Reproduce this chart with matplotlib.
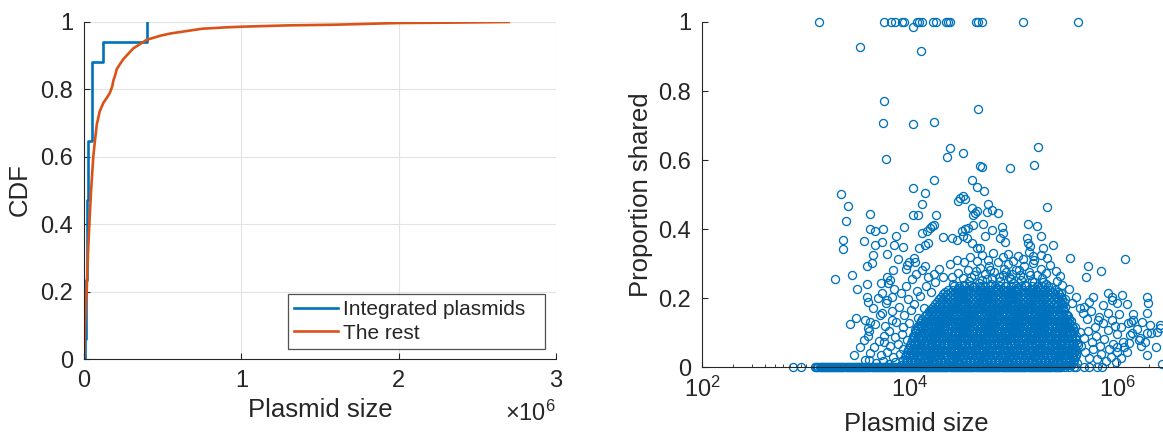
import numpy as np
import matplotlib.pyplot as plt
from matplotlib.ticker import LogLocator, NullFormatter

plt.rcParams['font.family'] = ['Liberation Sans', 'DejaVu Sans']
plt.rcParams['mathtext.fontset'] = 'custom'
plt.rcParams['mathtext.rm'] = 'Liberation Sans'
plt.rcParams['mathtext.it'] = 'Liberation Sans:italic'

BLUE = '#0072BD'
ORANGE = '#D95319'
INK = '#262626'

# ---- left panel: CDF of plasmid size ----
integrated_sizes = [9000, 11000, 13000, 15000, 16000, 17000, 18000, 21000, 23000,
                    26000, 28000, 49000, 50000, 52000, 53000, 123000, 398000]

rest_size_mb = [0, 0.004, 0.008, 0.012, 0.017, 0.022, 0.028, 0.034, 0.045, 0.059,
                0.07, 0.081, 0.1, 0.123, 0.145, 0.165, 0.18, 0.186, 0.2, 0.208,
                0.25, 0.314, 0.398, 0.483, 0.55, 0.65, 0.75, 0.9, 1.0, 1.3, 1.6,
                2.0, 2.3, 2.7]
rest_cdf = [0, 0.06, 0.12, 0.17, 0.2, 0.27, 0.34, 0.4, 0.5, 0.6,
            0.65, 0.695, 0.735, 0.76, 0.775, 0.79, 0.81, 0.825, 0.845, 0.86,
            0.89, 0.922, 0.947, 0.959, 0.966, 0.973, 0.98, 0.984, 0.986, 0.99, 0.992,
            0.997, 0.998, 1.0]

# ---- right panel: proportion shared vs plasmid size (log10 size x 100) ----
top_pts = [(312.8, 1), (375.3, 1), (381.7, 1), (385.6, 1), (392.0, 1), (394.2, 1),
           (403.2, .985), (406.4, 1), (408.9, 1), (411.2, 1), (422.4, 1), (424.7, 1),
           (434.3, 1), (436.3, 1), (438.5, 1), (463.0, 1), (465.4, 1), (469.2, 1),
           (508.9, 1), (561.8, 1)]

high_pts = [(351.9, .929), (410.9, .916), (375.3, .771), (374.3, .708), (403.2, .706),
            (423.4, .711), (465.7, .747), (376.9, .602), (438.5, .636), (435.3, .609),
            (450.7, .621), (423.4, .541), (459.3, .541), (467.3, .582), (333.9, .503),
            (403.2, .519), (414.4, .505), (340.1, .466), (411.2, .474), (338.5, .425),
            (361.8, .445), (403.2, .442), (408.0, .442), (424.7, .442), (335.6, .369),
            (335.6, .342), (355.8, .365), (361.5, .401), (366.3, .396), (374.3, .401),
            (366.3, .353), (372.8, .362), (386.5, .379), (384.9, .353), (393.6, .348),
            (394.2, .405), (411.2, .389), (416.1, .396), (419.2, .403), (420.9, .408),
            (423.4, .413), (408.9, .345), (414.4, .355), (417.0, .360), (432.0, .377),
            (440.1, .374), (444.9, .369), (448.1, .491), (446.2, .483), (451.0, .497),
            (452.9, .488), (459.3, .462), (464.1, .452), (460.9, .442), (464.1, .522),
            (452.9, .401), (455.8, .404), (450.7, .381), (454.5, .374), (460.9, .413),
            (459.3, .360), (464.1, .345), (404.1, .316), (364.7, .326), (377.6, .329),
            (523.4, .638), (519.2, .587), (468.9, .579), (496.2, .576), (471.2, .512),
            (531.4, .463), (474.7, .474), (478.6, .456), (484.3, .447), (473.8, .451),
            (462.5, .447), (469.9, .415), (478.6, .398), (488.2, .405), (489.1, .389),
            (513.7, .415), (522.4, .408), (525.7, .379), (512.2, .374), (513.7, .360),
            (515.4, .350), (537.2, .355), (528.2, .345), (518.6, .321), (553.8, .316),
            (606.7, .314), (486.5, .374), (491.3, .364), (472.1, .379), (467.3, .345),
            (449.7, .394)]

left_pts = [(327.9, .257), (343.9, .268), (348.8, .227), (358.4, .241), (359.9, .189),
            (342.3, .125), (348.1, .142), (356.7, .137), (361.5, .132), (366.3, .126),
            (359.9, .115), (359.9, .092), (375.0, .092), (360.9, .021), (358.4, .292),
            (363.2, .302), (383.9, .282), (379.1, .244), (380.8, .253), (369.5, .200),
            (372.8, .215), (377.6, .195), (372.8, .157), (382.4, .137), (396.8, .297),
            (404.8, .306), (414.4, .292),
            (372, .245), (378, .262), (385, .228), (391, .214), (396, .236), (402, .255),
            (407, .222), (398, .198), (404, .183), (410, .207), (389, .176), (383, .162),
            (394, .151), (401, .166), (408, .142), (413, .171), (387, .131), (393, .118),
            (399, .127), (405, .109), (411, .122), (380, .105), (386, .088), (392, .097),
            (397, .079), (403, .091), (375, .072), (381, .061), (388, .068), (393, .052),
            (378, .044), (384, .031), (390, .039), (372, .035), (365, .058), (370, .075),
            (376, .120), (371, .152), (364, .172), (359, .205), (377, .185), (383, .205),
            (415, .236), (420, .218), (417, .261), (423, .270), (412, .282), (406, .271),
            (396, .286), (399, .305), (388, .315), (361, .104), (356, .078), (362, .042),
            (352, .060), (367, .013), (374, .018), (380, .011), (386, .016), (391, .008),
            (357, .022), (346, .035)]

right_pts = [(571.5, .292), (569.3, .261), (583.7, .279), (590.7, .214), (593.9, .203),
             (604.2, .209), (598.8, .185), (608.4, .182), (627.6, .205), (629.2, .187),
             (627.6, .158), (614.8, .137), (622.8, .132), (630.8, .122), (640.4, .122),
             (637.2, .103), (627.6, .098), (621.2, .084), (626.0, .074), (611.6, .093),
             (605.2, .074), (598.8, .045), (627.6, .035), (608.4, .045), (632.2, .099),
             (640.6, .113), (636.5, .060), (612.2, .132), (613.9, .099), (598.9, .060),
             (610.6, .070), (620.6, .079), (593.9, .195), (585.6, .181), (590.6, .157),
             (580.6, .138), (575.6, .205), (572.3, .190), (567.3, .176),
             (545, .215), (549, .198), (553, .226), (556, .187), (560, .205), (563, .172),
             (566, .158), (570, .141), (574, .163), (578, .118), (582, .147), (586, .128),
             (590, .109), (594, .136), (597, .121), (601, .155), (547, .171), (551, .152),
             (555, .133), (559, .118), (563, .101), (567, .086), (571, .105), (575, .072),
             (579, .091), (583, .063), (587, .081), (591, .052), (595, .068), (599, .097),
             (603, .116), (606, .058), (610, .129), (614, .155), (618, .112), (622, .062),
             (547, .089), (552, .071), (556, .055), (560, .039), (564, .062), (568, .045),
             (572, .028), (576, .052), (580, .024), (584, .038), (588, .019), (593, .031),
             (598, .015), (603, .026), (549, .035), (553, .018), (557, .027), (561, .012),
             (642, .010)]

cap_pts = [(441, .241), (447, .229), (452, .238), (457, .251), (461, .233),
           (466, .244), (470, .236), (474, .257), (478, .241), (483, .229), (487, .249),
           (491, .236), (495, .262), (499, .244), (503, .231), (507, .253), (511, .239),
           (515, .266), (519, .247), (523, .235), (527, .258), (531, .242), (536, .233),
           (541, .251), (546, .238), (440, .262), (446, .272), (451, .259), (456, .281),
           (462, .266), (467, .288), (472, .271), (476, .294), (481, .276), (486, .262),
           (490, .285), (494, .298), (498, .271), (502, .283), (506, .266), (510, .292),
           (514, .277), (518, .301), (522, .268), (526, .285), (531, .272), (535, .296),
           (540, .279), (544, .265), (452, .305), (458, .318), (464, .309), (469, .326),
           (475, .312), (480, .331), (485, .304), (489, .318), (494, .327), (499, .309),
           (504, .322), (509, .314), (514, .333), (519, .311), (526, .326), (532, .316),
           (438, .298), (445, .312), (428, .285), (432, .262), (424, .247),
           (459, .262), (469, .252), (479, .259), (489, .266), (497, .255), (509, .262),
           (517, .251), (528, .247), (463, .279), (477, .283), (492, .277), (505, .281)]

# dense core of the cloud: one row of sizes per shared value
core_y = [0.008, 0.015, 0.022, 0.029, 0.036, 0.043, 0.050, 0.057, 0.064, 0.071,
          0.078, 0.085, 0.092, 0.099, 0.106, 0.113, 0.120, 0.127, 0.134, 0.141,
          0.148, 0.155, 0.162, 0.169, 0.176, 0.183, 0.190, 0.197, 0.204, 0.211,
          0.218, 0.225, 0.235]
core_L = [
    [395, 399, 403, 408, 412, 416, 419, 423, 428, 432, 436, 440, 443, 447, 452, 456, 460, 464, 467, 471,
     476, 480, 484, 488, 491, 495, 500, 504, 508, 512, 515, 519, 524, 528, 532, 536, 539, 543, 548, 552, 555],
    [397, 401, 405, 410, 414, 417, 421, 426, 430, 434, 438, 441, 445, 450, 454, 458, 462, 465, 469, 474,
     478, 482, 486, 489, 493, 498, 502, 506, 510, 513, 517, 522, 526, 530, 534, 537, 541, 546, 550, 554, 557],
    [393, 397, 401, 405, 410, 414, 418, 421, 425, 430, 434, 438, 442, 445, 449, 454, 458, 462, 466, 469,
     473, 478, 482, 486, 490, 493, 497, 502, 506, 510, 514, 517, 521, 526, 530, 534, 538, 541, 545, 550, 554, 558],
    [395, 399, 403, 407, 412, 416, 419, 423, 427, 432, 436, 440, 443, 447, 451, 456, 460, 464, 467, 471,
     475, 480, 484, 488, 491, 495, 499, 504, 508, 512, 515, 519, 523, 528, 532, 536, 539, 543, 547, 552, 556, 559],
    [396, 400, 404, 409, 413, 417, 420, 424, 429, 433, 437, 441, 444, 448, 453, 457, 461, 465, 468, 472,
     477, 481, 485, 489, 492, 496, 501, 505, 509, 513, 516, 520, 525, 529, 533, 537, 540, 544, 549, 553, 557, 560],
    [397, 401, 405, 409, 414, 418, 421, 425, 429, 434, 438, 442, 445, 449, 453, 458, 462, 466, 469, 473,
     477, 482, 486, 490, 493, 497, 501, 506, 510, 514, 517, 521, 525, 530, 534, 538, 541, 545, 549, 554, 558],
    [398, 402, 407, 411, 415, 418, 422, 427, 431, 435, 439, 442, 446, 451, 455, 459, 463, 466, 470, 475,
     479, 483, 487, 490, 494, 499, 503, 507, 511, 514, 518, 523, 527, 531, 535, 538, 542, 547, 551, 556, 560],
    [399, 403, 406, 410, 415, 419, 423, 426, 430, 435, 439, 443, 446, 450, 455, 459, 463, 466, 470, 475,
     479, 483, 486, 490, 495, 499, 503, 506, 510, 515, 519, 523, 526, 530, 535, 539, 543, 546, 550, 555, 559],
    [400, 404, 408, 413, 417, 421, 424, 428, 433, 437, 441, 445, 448, 452, 457, 461, 465, 469, 472, 476,
     481, 485, 489, 493, 496, 500, 505, 509, 513, 517, 520, 524, 529, 533, 537, 541, 544, 548, 553, 557, 562],
    [401, 405, 409, 413, 418, 421, 425, 429, 433, 437, 441, 445, 450, 453, 457, 461, 465, 469, 473, 478,
     481, 485, 489, 493, 497, 501, 505, 510, 513, 517, 521, 525, 529, 533, 538, 541, 545, 549, 553, 557, 561],
    [402, 406, 411, 415, 419, 422, 426, 431, 435, 439, 443, 446, 450, 455, 459, 463, 467, 470, 474, 479,
     483, 487, 491, 494, 498, 503, 507, 511, 515, 518, 522, 527, 531, 535, 539, 542, 546, 551, 556, 560],
    [404, 408, 412, 416, 420, 423, 428, 432, 436, 440, 444, 447, 452, 456, 460, 464, 468, 471, 476, 480,
     484, 488, 492, 495, 500, 504, 508, 512, 516, 519, 524, 528, 532, 536, 540, 543, 548, 552, 556, 559],
    [404, 408, 412, 417, 421, 425, 428, 432, 437, 441, 445, 449, 452, 456, 461, 465, 469, 473, 476, 480,
     485, 489, 493, 497, 500, 504, 509, 513, 517, 521, 524, 528, 533, 537, 541, 545, 548, 552, 556, 560],
    [405, 409, 413, 417, 422, 426, 429, 433, 437, 442, 446, 450, 453, 457, 461, 466, 470, 474, 477, 481,
     485, 490, 494, 498, 501, 505, 509, 514, 518, 522, 525, 529, 533, 538, 542, 546, 549, 553, 557],
    [406, 410, 415, 419, 423, 426, 430, 435, 439, 443, 447, 450, 454, 459, 463, 467, 471, 474, 478, 483,
     487, 491, 495, 498, 502, 507, 511, 515, 519, 522, 526, 531, 535, 539, 543, 546, 550, 554, 558],
    [407, 411, 414, 418, 423, 427, 431, 434, 438, 443, 447, 451, 454, 458, 462, 467, 471, 475, 478, 482,
     486, 491, 495, 499, 502, 506, 510, 515, 519, 523, 526, 530, 534, 539, 543, 547, 550, 554, 557],
    [408, 412, 416, 421, 425, 429, 432, 436, 441, 445, 449, 453, 456, 460, 465, 469, 473, 477, 480, 484,
     489, 493, 497, 501, 504, 508, 513, 517, 521, 525, 528, 532, 537, 541, 545, 549, 552, 556],
    [410, 413, 418, 422, 426, 430, 433, 438, 442, 446, 450, 454, 457, 462, 466, 470, 474, 478, 481, 486,
     490, 494, 498, 502, 505, 510, 514, 518, 522, 526, 529, 534, 538, 542, 546, 550, 553],
    [411, 415, 420, 424, 428, 431, 435, 440, 444, 448, 452, 455, 459, 464, 468, 472, 476, 479, 483, 488,
     492, 496, 500, 503, 507, 512, 516, 520, 524, 527, 531, 536, 540, 544, 548, 551, 555],
    [412, 416, 421, 425, 429, 433, 437, 440, 445, 449, 453, 457, 460, 464, 469, 473, 477, 481, 484, 489,
     493, 497, 501, 505, 508, 513, 517, 521, 525, 528, 532, 537, 541, 545, 549, 553],
    [414, 418, 422, 427, 431, 435, 438, 442, 447, 451, 455, 459, 462, 466, 471, 475, 479, 483, 486, 490,
     495, 499, 503, 507, 510, 514, 519, 523, 527, 531, 534, 538, 543, 547, 552],
    [416, 420, 424, 429, 433, 437, 440, 444, 449, 453, 457, 461, 464, 468, 473, 477, 481, 485, 488, 492,
     497, 501, 505, 509, 512, 516, 521, 525, 529, 533, 536, 541, 545, 550],
    [418, 422, 427, 431, 435, 438, 442, 447, 451, 455, 459, 462, 466, 471, 475, 479, 483, 486, 490, 495,
     499, 503, 507, 510, 514, 519, 523, 527, 531, 534, 538, 543, 548],
    [420, 424, 428, 433, 437, 441, 444, 448, 453, 457, 461, 465, 468, 472, 477, 481, 485, 489, 492, 496,
     501, 505, 509, 513, 516, 520, 525, 529, 533, 537, 542, 547],
    [422, 426, 430, 435, 439, 443, 446, 450, 455, 459, 463, 467, 470, 474, 479, 483, 487, 491, 494, 498,
     503, 507, 511, 515, 518, 522, 527, 531, 535, 540, 545, 549],
    [424, 428, 433, 437, 441, 444, 448, 453, 457, 461, 465, 468, 472, 477, 481, 485, 489, 492, 496, 501,
     505, 509, 513, 516, 520, 525, 529, 533, 538, 542, 546],
    [426, 431, 435, 439, 442, 446, 451, 455, 459, 463, 466, 470, 475, 479, 483, 487, 490, 494, 499, 503,
     507, 511, 514, 518, 523, 527, 531, 536, 540, 544, 548],
    [428, 432, 436, 441, 445, 449, 452, 456, 461, 465, 469, 473, 476, 480, 485, 489, 493, 497, 500, 504,
     509, 513, 517, 521, 525, 529, 534, 538, 542, 546],
    [430, 434, 438, 443, 447, 451, 454, 458, 463, 467, 471, 475, 478, 482, 487, 491, 495, 499, 502, 506,
     511, 515, 519, 523, 527, 532, 536, 540, 545],
    [432, 436, 441, 445, 449, 452, 456, 461, 465, 469, 473, 476, 480, 485, 489, 493, 497, 500, 504, 509,
     513, 517, 521, 525, 530, 534, 539, 543],
    [434, 439, 443, 447, 450, 454, 459, 463, 467, 471, 474, 478, 483, 487, 491, 495, 498, 502, 507, 511,
     515, 519, 523, 528, 532, 537, 542],
    [437, 441, 445, 449, 453, 457, 461, 465, 469, 473, 477, 481, 485, 489, 493, 497, 501, 505, 509, 513,
     517, 521, 525, 530, 534, 539],
    [442, 447, 452, 457, 462, 467, 472, 477, 482, 487, 492, 497, 502, 507, 512, 517, 522, 527, 533],
]

zero_L = [287.8, 295.2,
          309, 310, 311, 312, 313, 314, 315, 316, 317, 318, 319, 320, 321, 322, 323, 324, 325, 326,
          327, 328, 329, 330, 331, 332, 333, 334, 335, 336, 337, 338, 339, 340, 341, 342, 343, 344,
          345, 346, 347, 348, 349, 350, 351, 352, 353, 354, 355, 356, 357, 358, 359, 360, 361, 362,
          363, 364, 365, 366, 367, 368, 369, 370, 371, 372, 373, 374, 375, 376, 377, 378, 379, 380,
          381, 382, 383, 384, 385, 386, 387, 388, 389, 390, 391, 392, 393, 394, 395, 396, 397, 398,
          399, 400, 401, 402, 403, 404, 405, 406, 407, 408, 409, 410, 411, 412, 413, 414, 415, 416,
          417, 418, 419, 420, 421, 422, 423, 424, 425, 426, 427, 428, 429, 430, 431, 432, 433, 434,
          435, 436, 437, 438, 439, 440, 441, 442, 443, 444, 445, 446, 447, 448, 449, 450, 451, 452,
          453, 454, 455, 456, 457, 458, 459, 460, 461, 462, 463, 464, 465, 466, 467, 468, 469, 470,
          471, 472, 473, 474, 475, 476, 477, 478, 479, 480, 481, 482, 483, 484, 485, 486, 487, 488,
          489, 490, 491, 492, 493, 494, 495, 496, 497, 498, 499, 500, 501, 502, 503, 504, 505, 506,
          507, 508, 509, 510, 511, 512, 513, 514, 515, 516, 517, 518, 519, 520, 521, 522, 523, 524,
          525, 526, 527, 528, 529, 530, 531, 532, 533, 534, 535, 536, 537, 538, 539, 540, 541, 542,
          543, 544, 545, 549, 553, 558, 560, 567, 572, 579.5, 585]

# gather scatter points
sc_L, sc_y = [], []
for group in (top_pts, high_pts, left_pts, right_pts, cap_pts):
    for L, y in group:
        sc_L.append(L)
        sc_y.append(y)
for y, row in zip(core_y, core_L):
    sc_L += row
    sc_y += [y] * len(row)
sc_L += zero_L
sc_y += [0] * len(zero_L)
sc_size = 10 ** (np.array(sc_L) / 100)

# ---- figure ----
W, H = 1163, 436
fig = plt.figure(figsize=(W / 100, H / 100), dpi=100)

ax1 = fig.add_axes([84 / W, 1 - 359 / H, 472 / W, 337 / H])
n = len(integrated_sizes)
xs = np.sort(integrated_sizes)
ax1.step(np.r_[xs[0], xs], np.r_[0, np.arange(1, n + 1) / n], where='post',
         color=BLUE, lw=1.9, label='Integrated plasmids')
ax1.plot(np.array(rest_size_mb) * 1e6, rest_cdf, color=ORANGE, lw=1.9, label='The rest')
ax1.set_xlim(0, 3e6)
ax1.set_ylim(0, 1)
ax1.set_xticks([0, 1e6, 2e6, 3e6])
ax1.set_xticklabels(['0', '1', '2', '3'])
ax1.set_yticks([0, 0.2, 0.4, 0.6, 0.8, 1])
ax1.set_yticklabels(['0', '0.2', '0.4', '0.6', '0.8', '1'])
ax1.grid(True, color='#e3e3e3', lw=0.8)
ax1.set_axisbelow(True)
leg = ax1.legend(loc='lower left', bbox_to_anchor=(0.432, 0.03, 0.545, 0.157), mode='expand',
                 fontsize=15, frameon=True, fancybox=False, borderaxespad=0,
                 handlelength=2.1, handletextpad=0.25, borderpad=0.3, labelspacing=0.2)
leg.get_frame().set_edgecolor(INK)
leg.get_frame().set_linewidth(0.9)
for t in leg.get_texts():
    t.set_color(INK)

ax2 = fig.add_axes([702 / W, 1 - 367.3 / H, 520 / W, 345.3 / H])
ax2.plot(sc_size, sc_y, 'o', ms=5.8, mfc='none', mec=BLUE, mew=0.95, clip_on=False)
ax2.set_xscale('log')
ax2.set_xlim(1e2, 1e7)
ax2.set_ylim(0, 1)
ax2.set_xticks([1e2, 1e4, 1e6])
ax2.set_xticklabels([r'$10^{2}$', r'$10^{4}$', r'$10^{6}$'])
ax2.xaxis.set_minor_locator(LogLocator(base=10, subs=np.arange(1, 10), numticks=20))
ax2.xaxis.set_minor_formatter(NullFormatter())
ax2.set_yticks([0, 0.2, 0.4, 0.6, 0.8, 1])
ax2.set_yticklabels(['0', '0.2', '0.4', '0.6', '0.8', '1'])

for ax in (ax1, ax2):
    for s in ('top', 'right'):
        ax.spines[s].set_visible(False)
    for s in ('left', 'bottom'):
        ax.spines[s].set_color(INK)
        ax.spines[s].set_linewidth(0.8)
    ax.tick_params(which='major', direction='in', length=4, width=0.8, color=INK,
                   labelcolor=INK, labelsize=17, pad=8)
    ax.tick_params(which='minor', direction='in', length=2.5, width=0.6, color=INK)
ax2.tick_params(axis='x', which='major', pad=7)

fig.text(320 / W, 1 - 410 / H, 'Plasmid size', ha='center', va='center', fontsize=18.5, color=INK)
fig.text(916 / W, 1 - 424 / H, 'Plasmid size', ha='center', va='center', fontsize=18.5, color=INK)
fig.text(20 / W, 1 - 190 / H, 'CDF', rotation=90, ha='center', va='center', fontsize=18.5, color=INK)
fig.text(641 / W, 1 - 195 / H, 'Proportion shared', rotation=90, ha='center', va='center',
         fontsize=18.5, color=INK)
fig.text(556 / W, 1 - 413 / H, r'$\times 10^{6}$', ha='right', va='center', fontsize=17, color=INK)

fig.savefig('out.png', dpi=100)
